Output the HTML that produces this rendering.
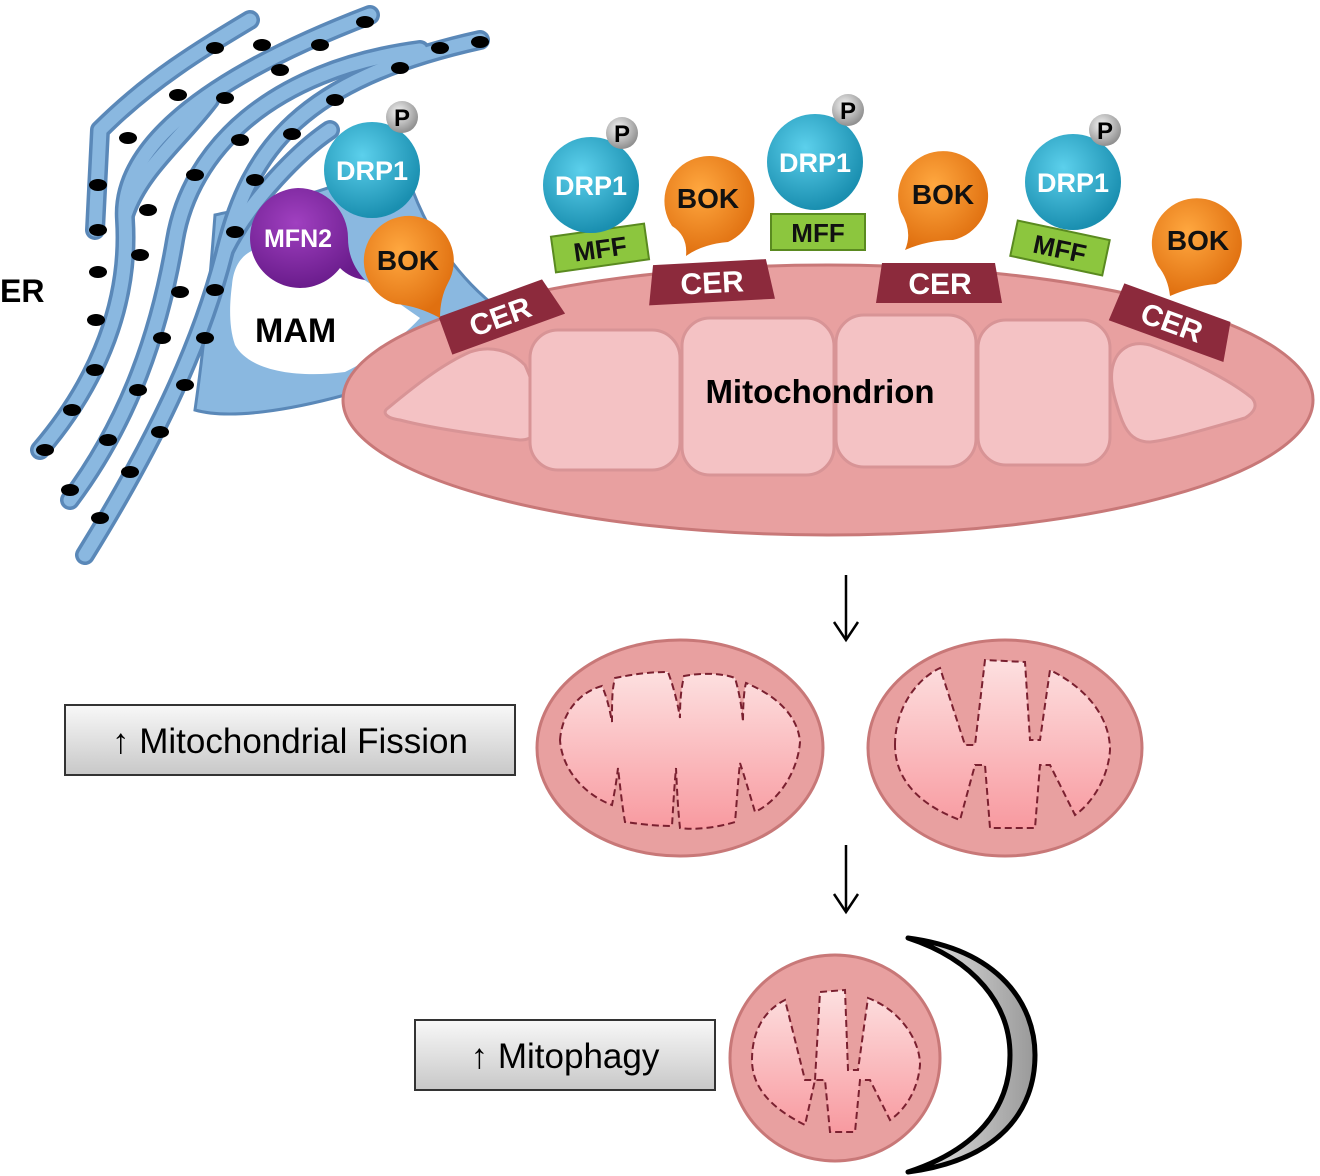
<!DOCTYPE html>
<html><head><meta charset="utf-8"><style>
html,body{margin:0;padding:0;background:#fff;}
svg{display:block;font-family:"Liberation Sans",Arial,sans-serif;}
</style></head><body>
<svg width="1320" height="1176" viewBox="0 0 1320 1176" xmlns="http://www.w3.org/2000/svg">
<defs>
<radialGradient id="drp" cx="40%" cy="35%" r="65%"><stop offset="0" stop-color="#5cd0ec"/><stop offset="1" stop-color="#1a8fb0"/></radialGradient>
<radialGradient id="bok" cx="40%" cy="35%" r="65%"><stop offset="0" stop-color="#ffa840"/><stop offset="1" stop-color="#e07010"/></radialGradient>
<radialGradient id="mfn" cx="40%" cy="35%" r="65%"><stop offset="0" stop-color="#a040c0"/><stop offset="1" stop-color="#6a1c8c"/></radialGradient>
<radialGradient id="pp" cx="40%" cy="35%" r="65%"><stop offset="0" stop-color="#f4f4f4"/><stop offset="1" stop-color="#909090"/></radialGradient>
<linearGradient id="inner" x1="0" y1="0" x2="0" y2="1"><stop offset="0" stop-color="#fde0e0"/><stop offset="1" stop-color="#f89aa0"/></linearGradient>
<linearGradient id="box" x1="0" y1="0" x2="0" y2="1"><stop offset="0" stop-color="#f8f8f8"/><stop offset="1" stop-color="#c8c8c8"/></linearGradient>
<linearGradient id="moon" x1="0" y1="0" x2="1" y2="0"><stop offset="0" stop-color="#e8e8e8"/><stop offset="1" stop-color="#999"/></linearGradient>
</defs>

<!-- MAM blue web -->
<path d="M215,215 C280,200 340,195 400,150 C420,230 460,280 500,310 L440,340 C400,360 370,380 345,395 C290,410 230,420 195,410 C205,340 210,280 215,215 Z" fill="#8ab8e0" stroke="#5a88b8" stroke-width="3"/>
<path d="M232,285 C235,250 260,240 300,250 C340,260 380,290 420,318 C400,340 370,360 345,372 C300,378 250,372 235,345 C228,325 230,300 232,285 Z" fill="#fff"/>

<!-- ER network -->
<g fill="none" stroke-linecap="round" stroke-linejoin="round">
<g stroke="#5a88b8" stroke-width="20">
<path d="M85,555 C150,450 200,350 225,250 C250,150 300,80 480,40"/>
<path d="M40,450 C100,380 130,300 125,220 C120,150 200,80 370,15"/>
<path d="M70,500 C130,420 160,330 175,240 C190,150 270,70 420,50"/>
<path d="M125,215 C140,170 180,140 210,100"/>
<path d="M225,250 C250,200 300,150 330,130"/>
<path d="M95,230 L100,130 C150,80 200,50 250,20"/>
</g>
<g stroke="#8ab8e0" stroke-width="13">
<path d="M85,555 C150,450 200,350 225,250 C250,150 300,80 480,40"/>
<path d="M40,450 C100,380 130,300 125,220 C120,150 200,80 370,15"/>
<path d="M70,500 C130,420 160,330 175,240 C190,150 270,70 420,50"/>
<path d="M125,215 C140,170 180,140 210,100"/>
<path d="M225,250 C250,200 300,150 330,130"/>
<path d="M95,230 L100,130 C150,80 200,50 250,20"/>
</g>
</g>
<g fill="#000">
<ellipse cx="100" cy="518" rx="9" ry="6"/><ellipse cx="70" cy="490" rx="9" ry="6"/><ellipse cx="45" cy="450" rx="9" ry="6"/>
<ellipse cx="130" cy="472" rx="9" ry="6"/><ellipse cx="108" cy="440" rx="9" ry="6"/><ellipse cx="72" cy="410" rx="9" ry="6"/>
<ellipse cx="160" cy="432" rx="9" ry="6"/><ellipse cx="138" cy="390" rx="9" ry="6"/><ellipse cx="95" cy="370" rx="9" ry="6"/>
<ellipse cx="185" cy="385" rx="9" ry="6"/><ellipse cx="162" cy="338" rx="9" ry="6"/><ellipse cx="96" cy="320" rx="9" ry="6"/>
<ellipse cx="205" cy="338" rx="9" ry="6"/><ellipse cx="180" cy="292" rx="9" ry="6"/><ellipse cx="98" cy="272" rx="9" ry="6"/>
<ellipse cx="215" cy="290" rx="9" ry="6"/><ellipse cx="140" cy="255" rx="9" ry="6"/><ellipse cx="98" cy="230" rx="9" ry="6"/>
<ellipse cx="235" cy="232" rx="9" ry="6"/><ellipse cx="148" cy="210" rx="9" ry="6"/><ellipse cx="98" cy="185" rx="9" ry="6"/>
<ellipse cx="195" cy="175" rx="9" ry="6"/><ellipse cx="255" cy="180" rx="9" ry="6"/><ellipse cx="128" cy="138" rx="9" ry="6"/>
<ellipse cx="240" cy="140" rx="9" ry="6"/><ellipse cx="292" cy="134" rx="9" ry="6"/><ellipse cx="178" cy="95" rx="9" ry="6"/>
<ellipse cx="225" cy="98" rx="9" ry="6"/><ellipse cx="280" cy="70" rx="9" ry="6"/><ellipse cx="320" cy="45" rx="9" ry="6"/>
<ellipse cx="262" cy="45" rx="9" ry="6"/><ellipse cx="365" cy="22" rx="9" ry="6"/><ellipse cx="335" cy="100" rx="9" ry="6"/>
<ellipse cx="400" cy="68" rx="9" ry="6"/><ellipse cx="440" cy="48" rx="9" ry="6"/><ellipse cx="480" cy="42" rx="9" ry="6"/>
<ellipse cx="215" cy="48" rx="9" ry="6"/>
</g>
<text x="0" y="302" font-size="32" font-weight="bold">ER</text>
<text x="255" y="342" font-size="34" font-weight="bold">MAM</text>

<!-- Mitochondrion -->
<ellipse cx="828" cy="400" rx="485" ry="135" fill="#e8a0a0" stroke="#c87878" stroke-width="3"/>
<g fill="#f4c2c4" stroke="#d89496" stroke-width="3" stroke-linejoin="round">
<path d="M388,408 C410,390 440,365 470,352 C490,345 510,350 525,365 C532,380 538,400 545,415 C540,430 535,440 520,440 C480,435 430,428 400,420 C385,418 382,412 388,408 Z"/>
<rect x="530" y="330" width="150" height="140" rx="28"/>
<rect x="682" y="318" width="152" height="157" rx="28"/>
<rect x="836" y="315" width="140" height="152" rx="28"/>
<rect x="978" y="320" width="132" height="145" rx="28"/>
<path d="M1112,370 C1115,350 1130,340 1150,345 C1190,360 1230,380 1252,398 C1258,405 1255,412 1245,418 C1210,428 1170,440 1150,442 C1132,442 1125,430 1120,415 C1115,400 1110,385 1112,370 Z"/>
</g>
<text x="820" y="403" font-size="33" font-weight="bold" text-anchor="middle">Mitochondrion</text>

<!-- CERs -->
<g font-weight="bold" font-size="30" fill="#fff" text-anchor="middle">
<g transform="translate(500,316) rotate(-20)"><path d="M-58,-20 L52,-20 L62,20 L-58,20 Z" fill="#8c2a3c"/><text y="11">CER</text></g>
<g transform="translate(712,282) rotate(-3)"><path d="M-58,-20 L55,-20 L62,20 L-64,20 Z" fill="#8c2a3c"/><text y="11">CER</text></g>
<g transform="translate(940,283)"><path d="M-58,-20 L55,-20 L62,20 L-64,20 Z" fill="#8c2a3c"/><text y="11">CER</text></g>
<g transform="translate(1172,322) rotate(20)"><path d="M-58,-20 L55,-20 L62,20 L-60,20 Z" fill="#8c2a3c"/><text y="11">CER</text></g>
</g>

<!-- MFFs -->
<g font-weight="bold" font-size="26" text-anchor="middle" fill="#111">
<g transform="translate(600,248) rotate(-8)"><rect x="-47" y="-18" width="94" height="36" fill="#8cc63e" stroke="#5a8a20" stroke-width="2"/><text y="10">MFF</text></g>
<g transform="translate(818,232)"><rect x="-47" y="-18" width="94" height="36" fill="#8cc63e" stroke="#5a8a20" stroke-width="2"/><text y="10">MFF</text></g>
<g transform="translate(1060,248) rotate(12)"><rect x="-47" y="-18" width="94" height="36" fill="#8cc63e" stroke="#5a8a20" stroke-width="2"/><text y="10">MFF</text></g>
</g>

<!-- MFN2 -->
<path d="M298,188 A50,50 0 1 0 340,268 Q350,278 365,280 Q348,262 348,238 A50,50 0 0 0 298,188 Z" fill="url(#mfn)"/>
<text x="298" y="247" font-size="25" font-weight="bold" fill="#fff" text-anchor="middle">MFN2</text>

<!-- BOKs -->
<g font-weight="bold" font-size="28" fill="#111" text-anchor="middle">
<g transform="translate(408,258)"><path d="M32,60 Q10,48 -12,46 A45,45 0 1 1 40,25 Q32,40 32,60 Z" fill="url(#bok)"/><text y="12">BOK</text></g>
<g transform="translate(708,196)"><path d="M-22,60 Q-20,40 -36,30 A45,45 0 1 1 20,46 Q-5,48 -22,60 Z" fill="url(#bok)"/><text y="12">BOK</text></g>
<g transform="translate(943,192)"><path d="M-38,58 Q-30,40 -42,20 A45,45 0 1 1 10,48 Q-15,48 -38,58 Z" fill="url(#bok)"/><text y="12">BOK</text></g>
<g transform="translate(1198,238)"><path d="M-28,58 Q-30,40 -40,28 A45,45 0 1 1 18,46 Q-5,48 -28,58 Z" fill="url(#bok)"/><text y="12">BOK</text></g>
</g>

<!-- DRP1s -->
<g font-weight="bold" font-size="27" fill="#fff" text-anchor="middle">
<circle cx="372" cy="170" r="48" fill="url(#drp)"/><text x="372" y="180">DRP1</text>
<circle cx="591" cy="185" r="48" fill="url(#drp)"/><text x="591" y="195">DRP1</text>
<circle cx="815" cy="162" r="48" fill="url(#drp)"/><text x="815" y="172">DRP1</text>
<circle cx="1073" cy="182" r="48" fill="url(#drp)"/><text x="1073" y="192">DRP1</text>
</g>
<g font-weight="bold" font-size="24" fill="#000" text-anchor="middle">
<circle cx="402" cy="117" r="16" fill="url(#pp)"/><text x="402" y="126">P</text>
<circle cx="622" cy="133" r="16" fill="url(#pp)"/><text x="622" y="142">P</text>
<circle cx="848" cy="110" r="16" fill="url(#pp)"/><text x="848" y="119">P</text>
<circle cx="1105" cy="130" r="16" fill="url(#pp)"/><text x="1105" y="139">P</text>
</g>

<!-- arrows -->
<g stroke="#000" stroke-width="2.5" fill="none">
<path d="M846,575 L846,640"/><path d="M834,622 L846,640 L858,622"/>
<path d="M846,845 L846,912"/><path d="M834,894 L846,912 L858,894"/>
</g>

<!-- Fission mitos -->
<ellipse cx="680" cy="748" rx="143" ry="108" fill="#e8a0a0" stroke="#c87878" stroke-width="3"/>
<path d="M560,740 C562,712 580,692 602,686 C608,700 610,712 612,722 C612,700 612,690 615,678 C635,674 650,672 668,672 C674,688 678,705 680,718 C680,700 681,690 684,676 C705,672 725,674 735,678 C740,695 742,710 743,722 C743,705 744,690 746,683 C775,695 798,715 800,742 C798,770 780,800 755,812 C750,795 745,778 740,763 C738,780 737,800 735,822 C715,828 695,830 680,828 C678,810 677,790 676,768 C674,790 673,810 672,826 C655,826 640,824 625,822 C622,805 620,785 618,768 C616,785 614,795 612,805 C585,795 562,770 560,740 Z" fill="url(#inner)" stroke="#7a2030" stroke-width="2" stroke-dasharray="7,4"/>
<ellipse cx="1005" cy="748" rx="137" ry="108" fill="#e8a0a0" stroke="#c87878" stroke-width="3"/>
<path d="M895,745 C895,710 915,680 940,668 L965,745 L975,745 L985,660 L1025,662 L1030,740 L1040,740 L1050,670 C1090,690 1110,720 1110,750 C1108,780 1090,805 1075,815 L1050,765 L1040,765 L1035,828 L990,828 L985,765 L975,765 L960,820 C920,805 895,780 895,745 Z" fill="url(#inner)" stroke="#7a2030" stroke-width="2" stroke-dasharray="7,4"/>

<!-- Mitophagy mito -->
<ellipse cx="835" cy="1058" rx="105" ry="103" fill="#e8a0a0" stroke="#c87878" stroke-width="3"/>
<path d="M752,1060 C752,1030 765,1010 785,1000 L805,1080 L815,1080 L820,992 L845,990 L848,1070 L858,1070 L868,998 C900,1010 920,1040 920,1065 C918,1090 905,1110 890,1120 L870,1080 L860,1080 L855,1132 L830,1132 L825,1080 L815,1080 L805,1125 C775,1110 752,1090 752,1060 Z" fill="url(#inner)" stroke="#7a2030" stroke-width="2" stroke-dasharray="7,4"/>
<path d="M908,938 C1000,950 1035,1005 1035,1055 C1035,1110 1000,1160 908,1172 C975,1150 1010,1110 1010,1055 C1010,1005 975,960 908,938 Z" fill="url(#moon)" stroke="#000" stroke-width="5" stroke-linejoin="round"/>

<!-- boxes -->
<rect x="65" y="705" width="450" height="70" fill="url(#box)" stroke="#333" stroke-width="2"/>
<text x="290" y="753" font-size="35" text-anchor="middle">↑ Mitochondrial Fission</text>
<rect x="415" y="1020" width="300" height="70" fill="url(#box)" stroke="#333" stroke-width="2"/>
<text x="565" y="1068" font-size="35" text-anchor="middle">↑ Mitophagy</text>
</svg>
</body></html>
